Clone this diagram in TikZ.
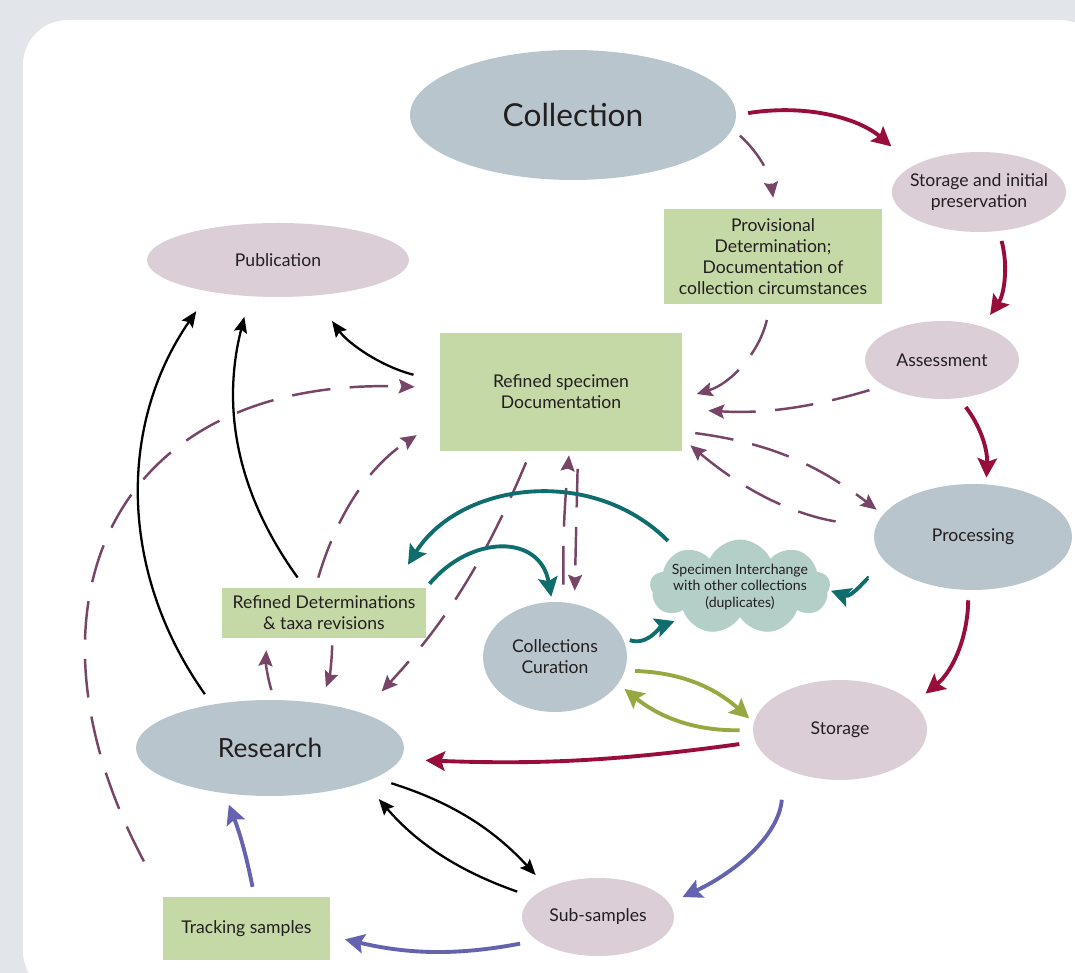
\documentclass[tikz,border=0pt]{standalone}
\usepackage{fontspec}
\setmainfont{Lato}
\usetikzlibrary{arrows.meta, shapes.geometric, shapes.symbols}
\definecolor{panelgrey}{HTML}{E2E6EA}
\definecolor{ovalgrey}{HTML}{B9C5CD}
\definecolor{ovalpink}{HTML}{DBCED6}
\definecolor{boxgreen}{HTML}{C5D9A6}
\definecolor{cloudgreen}{HTML}{B4CFC8}
\definecolor{textdark}{HTML}{231F20}
\definecolor{flowred}{HTML}{990D3B}
\definecolor{docplum}{HTML}{774567}
\definecolor{swapteal}{HTML}{0F6E6D}
\definecolor{storeolive}{HTML}{98A840}
\definecolor{sampleblue}{HTML}{6563B0}
\tikzset{
    greyoval/.style={
        ellipse,
        fill=ovalgrey,
        inner sep=0pt
    },
    pinkoval/.style={
        ellipse,
        fill=ovalpink,
        inner sep=0pt
    },
    notebox/.style={
        rectangle,
        fill=boxgreen,
        inner sep=0pt,
        align=center,
        text=textdark,
        font=\fontsize{10}{12}\selectfont
    },
    swapcloud/.style={
        cloud,
        cloud puffs=9,
        cloud puff arc=130,
        aspect=1.9,
        fill=cloudgreen,
        inner sep=0pt
    },
    flowarrow/.style={
        -{Stealth[length=11pt, width=11pt, inset=2pt]},
        line width=2.2pt,
        draw=flowred
    },
    docarrow/.style={
        -{Stealth[length=9pt, width=8pt, inset=1.5pt]},
        line width=1.4pt,
        dash pattern=on 22pt off 11pt,
        draw=docplum
    },
    pubarrow/.style={
        -{Stealth[length=9pt, width=7.5pt, inset=1.5pt]},
        line width=1.3pt,
        draw=black
    },
    swaparrow/.style={
        -{Stealth[length=11pt, width=11pt, inset=2pt]},
        line width=2.2pt,
        draw=swapteal
    },
    storearrow/.style={
        -{Stealth[length=11pt, width=11pt, inset=2pt]},
        line width=2.2pt,
        draw=storeolive
    },
    samplearrow/.style={
        -{Stealth[length=11pt, width=11pt, inset=2pt]},
        line width=2.2pt,
        draw=sampleblue
    }
}

\begin{document}
\begin{tikzpicture}[x=0.02cm, y=0.02cm,
    every label/.style={align=center, text=textdark, font=\fontsize{10}{12}\selectfont}]
    % background panel
    \clip (0,0) rectangle (1075,973);
    \fill[panelgrey] (0,0) rectangle (1075,973);
    \fill[white, rounded corners=0.9cm] (23,-23) rectangle (1105,953);

    % ovals
    \node[greyoval, minimum width=6.52cm, minimum height=2.6cm,
        label={[font=\fontsize{18}{20}\selectfont]center:Collection}] (coll) at (573,858) {};
    \node[pinkoval, minimum width=3.48cm, minimum height=1.6cm,
        label={center:Storage and initial\\preservation}] (storinit) at (979,781) {};
    \node[pinkoval, minimum width=5.24cm, minimum height=1.48cm,
        label={center:Publication}] (pub) at (278,713) {};
    \node[pinkoval, minimum width=3.08cm, minimum height=1.56cm,
        label={center:Assessment}] (assess) at (942,613) {};
    \node[greyoval, minimum width=3.96cm, minimum height=2.12cm,
        label={center:Processing}] (proc) at (973,436) {};
    \node[greyoval, minimum width=2.88cm, minimum height=2.2cm,
        label={center:Collections\\Curation}] (curation) at (555,316) {};
    \node[pinkoval, minimum width=3.48cm, minimum height=2cm,
        label={center:Storage}] (storage) at (840,243) {};
    \node[greyoval, minimum width=5.36cm, minimum height=1.92cm,
        label={[font=\fontsize{15}{17}\selectfont]center:Research}] (research) at (270,225) {};
    \node[pinkoval, minimum width=3.04cm, minimum height=1.56cm,
        label={center:Sub-samples}] (subsamp) at (598,56) {};

    % boxes
    \node[notebox, minimum width=4.36cm, minimum height=1.9cm] (prov) at (773,716.5)
        {Provisional\\Determination;\\Documentation of\\collection circumstances};
    \node[notebox, minimum width=4.84cm, minimum height=2.36cm] (refdoc) at (561,581)
        {Refined specimen\\Documentation};
    \node[notebox, minimum width=4.08cm, minimum height=1cm] (refdet) at (324,360)
        {Refined Determinations\\\& taxa revisions};
    \node[notebox, minimum width=3.34cm, minimum height=1.26cm] (tracking) at (246.5,44.5)
        {Tracking samples};
    \node[swapcloud, minimum width=3.6cm, minimum height=1.9cm,
        label={[font=\fontsize{8}{9.5}\selectfont]center:Specimen Interchange\\with other collections\\(duplicates)}] (inter) at (740,386) {};

    % main flow
    \draw[flowarrow, shorten <=0.24cm, shorten >=0.58cm] (coll.0) to[bend left=25] (storinit.158);
    \draw[flowarrow, shorten <=0.2cm, shorten >=0.28cm] (storinit.-63) to[bend left=25] (assess.40);
    \draw[flowarrow, shorten <=0.22cm, shorten >=0.13cm] (assess.-66) to[bend left=20] (proc.76);
    \draw[flowarrow, shorten <=0.2cm, shorten >=0.3cm] (proc.-95) to[bend left=25] (storage.20);
    \draw[flowarrow, shorten <=0.32cm, shorten >=0.5cm] (storage.188) to[bend left=5] (research.-5);

    % documentation
    \draw[docarrow, shorten <=0.2cm, shorten >=0.22cm] (coll.-5) to[bend left=20] (prov.88);
    \draw[docarrow, shorten <=0.32cm, shorten >=0.3cm] (prov.-93) to[bend left=30] (refdoc.-3);
    \draw[docarrow, shorten <=0.3cm, shorten >=0.52cm] (assess.204) to[bend left=10] (refdoc.-8);
    \draw[docarrow, shorten <=0.26cm, shorten >=0.16cm] (refdoc.-18) to[bend left=15] (proc.166);
    \draw[docarrow, shorten <=0.8cm, shorten >=0.21cm] (proc.175) to[bend left=15] (refdoc.-21);
    \draw[docarrow, shorten <=0.8cm, shorten >=0.5cm] (tracking.north west) to[out=118, in=178, looseness=1.45] (refdoc.178);
    \draw[docarrow, shorten <=0.21cm, shorten >=0.55cm] (refdet.109) to[bend left=20] (refdoc.193);
    \draw[docarrow, shorten <=0.24cm, shorten >=0.58cm] (refdoc.243) to[bend left=10] (research.21);
    \draw[docarrow, shorten <=0.35cm, shorten >=0.08cm] (curation.81) to[bend left=3] (refdoc.-82);
    \draw[docarrow, shorten <=0.35cm, shorten >=0.26cm] (refdoc.-74) -- (curation.70);
    \draw[docarrow, shorten <=0.2cm, shorten >=0.24cm] (research.85) to[bend left=10] (refdet.204);
    \draw[docarrow, shorten <=0.14cm, shorten >=0.34cm] (refdet.-72) to[bend left=10] (research.42);

    % publication and research
    \draw[pubarrow, shorten <=0.25cm, shorten >=0.42cm] (refdet.127) to[bend left=25] (pub.232);
    \draw[pubarrow, shorten <=0.25cm, shorten >=0.47cm] (research.143) to[bend left=35] (pub.205);
    \draw[pubarrow, shorten <=0.54cm, shorten >=0.62cm] (refdoc.175) to[bend left=20] (pub.-45);
    \draw[pubarrow, shorten <=0.34cm, shorten >=0.34cm] (research.-16) to[bend left=15] (subsamp.150);
    \draw[pubarrow, shorten <=0.32cm, shorten >=0.44cm] (subsamp.163) to[bend left=15] (research.-20);

    % interchange
    \draw[swaparrow, shorten <=0.3cm, shorten >=0.54cm] (inter.150) to[out=135, in=58, looseness=1.1] (refdet.20);
    \draw[swaparrow, shorten <=0.1cm, shorten >=0.1cm] (refdet.north east) to[out=50, in=100, looseness=1.4] (curation.93);
    \draw[swaparrow, shorten <=0.56cm, shorten >=0.04cm] (proc.189) to[out=250, in=-20] (inter.-2);
    \draw[swaparrow, shorten <=0.15cm, shorten >=0.24cm] (curation.16) to[out=-20, in=200] (inter.209);

    % storage
    \draw[storearrow, shorten <=0.2cm, shorten >=0.12cm] (curation.-11) to[bend left=20] (storage.175);
    \draw[storearrow, shorten <=0.26cm, shorten >=0.16cm] (storage.180) to[bend left=20] (curation.-23);

    % samples
    \draw[samplearrow, shorten <=0.62cm, shorten >=0.29cm] (storage.215) to[out=265, in=25] (subsamp.11);
    \draw[samplearrow, shorten <=0.34cm, shorten >=0.3cm] (subsamp.201) to[bend left=12] (tracking.-5);
    \draw[samplearrow, shorten <=0.2cm, shorten >=0.24cm] (tracking.76) to[bend right=5] (research.225);
\end{tikzpicture}
\end{document}
